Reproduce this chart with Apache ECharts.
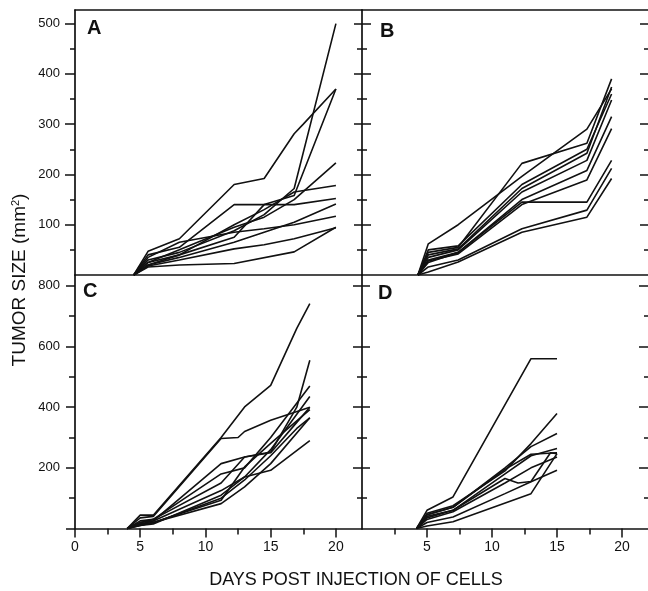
<!DOCTYPE html>
<html>
<head>
<meta charset="utf-8">
<script src="https://cdn.jsdelivr.net/npm/echarts@6/dist/echarts.min.js"></script>
<style>html,body{margin:0;padding:0;background:#fff}#c{width:648px;height:591px}</style>
</head>
<body>
<div id="c"></div>
<script>
// ---------------- DATA ----------------
// Panel A
var daysA = [4.5, 5.6, 8, 12.2, 14.5, 16.8, 17.5, 20];
var panelA = [
  [0, 47, 72, 180, 192, 281, 300, 370],
  [0, 30, 45, 88, 120, 172, null, 500],
  [0, 25, 40, 75, 140, 158, null, 370],
  [0, 40, 55, 140, 140, 140, null, 152],
  [0, 20, 40, 100, 130, 165, null, 178],
  [0, 25, 50, 95, 115, 150, null, 223],
  [0, 20, 35, 65, 85, 105, null, 141],
  [0, 35, 65, 85, 92, 100, null, 117],
  [0, 18, 30, 52, 60, 72, null, 94],
  [0, 16, 20, 23, null, 46, null, 95]
];
// Panel B
var daysB = [4.3, 5.1, 7.4, 12.3, 17.3, 19.2];
var panelB = [
  [0, 62, 100, 196, 290, 370],
  [0, 45, 55, 222, 262, 390],
  [0, 40, 52, 172, 242, 374],
  [0, 35, 50, 165, 228, 348],
  [0, 30, 45, 150, 208, 315],
  [0, 28, 42, 140, 189, 291],
  [0, 25, 45, 145, 145, 228],
  [0, 16, 30, 92, 129, 212],
  [0, 6, 26, 85, 115, 192],
  [0, 50, 58, 180, 250, 360]
];
// Panel C
var daysC = [4, 5, 6, 11.2, 12.5, 13, 15, 17, 18];
var panelC = [
  [0, 44, 44, 300, null, 401, 472, 660, 742],
  [0, 35, 40, 297, 300, 320, 357, null, 400],
  [0, 20, 30, 150, null, 236, 252, 400, 555],
  [0, 25, 30, 180, null, 200, 300, null, 470],
  [0, 15, 25, 125, null, 170, 260, null, 435],
  [0, 10, 20, 93, null, 203, 281, null, 392],
  [0, 15, 20, 82, null, 137, 214, null, 365],
  [0, 10, 15, 110, null, 170, 192, null, 290],
  [0, 20, 25, 214, null, 236, 250, 350, 400],
  [0, 12, 18, 100, null, 160, 240, 330, 365]
];
// Panel D
var daysD = [4.2, 5, 7, 11, 12, 13, 14.5, 15];
var panelD = [
  [0, 60, 104, null, null, 560, null, 560],
  [0, 50, 75, 190, null, 280, null, 379],
  [0, 45, 70, 200, null, 270, null, 313],
  [0, 40, 60, 180, null, 240, null, 264],
  [0, 35, 60, 165, 150, 155, 250, 247],
  [0, 30, 55, 150, null, 200, null, 236],
  [0, 20, 38, 115, null, 154, null, 192],
  [0, 8, 22, null, null, 115, null, 247],
  [0, 45, 70, 195, null, 245, null, 250]
];
// Ticks / labels
var xMajor = [0, 5, 10, 15, 20];
var xMinor = [2.5, 7.5, 12.5, 17.5];
var xLabelsC = [0, 5, 10, 15, 20];
var xLabelsD = [5, 10, 15, 20];
var yMajorAB = [100, 200, 300, 400, 500];
var yMinorAB = [50, 150, 250, 350, 450];
var yMajorCD = [0, 200, 400, 600, 800];
var yMinorCD = [100, 300, 500, 700];
var yLabelsCD = [200, 400, 600, 800];
var panelLetters = ['A', 'B', 'C', 'D'];
var xTitle = 'DAYS POST INJECTION OF CELLS';

// ---------------- CHART ----------------
var FONT = '"Liberation Sans", Arial, Helvetica, sans-serif';
var INK = '#111111';
var X_MAX = 22, Y_MAX_AB = 527, Y_MAX_CD = 836;

var grids = [
  {left: 75, top: 10, width: 287, height: 265},
  {left: 362, top: 10, width: 286, height: 265},
  {left: 75, top: 275, width: 287, height: 253.5},
  {left: 362, top: 275, width: 286, height: 253.5}
];

var xAxes = [], yAxes = [];
function addX(o) {
  var ax = {
    type: 'value', gridIndex: o.grid, min: 0, max: X_MAX, position: o.pos || 'bottom',
    axisLine: {show: !!o.line, onZero: false, lineStyle: {color: INK, width: 1.7}},
    axisTick: o.ticks ? {show: true, customValues: o.ticks, length: o.len, inside: !!o.inside,
      lineStyle: {color: INK, width: 1.5}} : {show: false},
    axisLabel: o.labels ? {show: true, customValues: o.labels, margin: 12, color: INK,
      fontFamily: FONT, fontSize: 14} : {show: false},
    splitLine: {show: false}
  };
  xAxes.push(ax);
  return xAxes.length - 1;
}
function addY(o) {
  var ax = {
    type: 'value', gridIndex: o.grid, min: 0, max: o.max, position: o.pos || 'left',
    axisLine: {show: !!o.line, onZero: false, lineStyle: {color: INK, width: 1.7}},
    axisTick: o.ticks ? {show: true, customValues: o.ticks, length: o.len, inside: !!o.inside,
      lineStyle: {color: INK, width: 1.5}} : {show: false},
    axisLabel: o.labels ? {show: true, customValues: o.labels, margin: 15, color: INK,
      fontFamily: FONT, fontSize: 13} : {show: false},
    splitLine: {show: false}
  };
  yAxes.push(ax);
  return yAxes.length - 1;
}

// X axes
var xA = addX({grid: 0, line: true});
addX({grid: 0, pos: 'top', line: true});
var xB = addX({grid: 1, line: true});
addX({grid: 1, pos: 'top', line: true});
var xC = addX({grid: 2, line: true, ticks: xMajor, len: 9, labels: xLabelsC});
addX({grid: 2, ticks: xMinor, len: 6});
var xD = addX({grid: 3, line: true, ticks: xMajor.slice(1), len: 9, labels: xLabelsD});
addX({grid: 3, ticks: xMinor, len: 6});

// Y axes
var yA = addY({grid: 0, max: Y_MAX_AB, line: true, ticks: yMajorAB, len: 10, labels: yMajorAB});
addY({grid: 0, max: Y_MAX_AB, ticks: yMinorAB, len: 5});
var yB = addY({grid: 1, max: Y_MAX_AB, line: true, ticks: yMajorAB, len: 8});
addY({grid: 1, max: Y_MAX_AB, ticks: yMajorAB, len: 9, inside: true});
addY({grid: 1, max: Y_MAX_AB, ticks: yMinorAB, len: 5});
addY({grid: 1, max: Y_MAX_AB, ticks: yMinorAB, len: 5, inside: true});
addY({grid: 1, max: Y_MAX_AB, pos: 'right', ticks: yMajorAB, len: 8, inside: true});
addY({grid: 1, max: Y_MAX_AB, pos: 'right', ticks: yMinorAB, len: 4, inside: true});

var yC = addY({grid: 2, max: Y_MAX_CD, line: true, ticks: yMajorCD, len: 9, labels: yLabelsCD});
addY({grid: 2, max: Y_MAX_CD, ticks: yMinorCD, len: 6});
var yD = addY({grid: 3, max: Y_MAX_CD, line: true, ticks: yMajorCD.slice(1), len: 9});
addY({grid: 3, max: Y_MAX_CD, ticks: yMajorCD.slice(1), len: 8, inside: true});
addY({grid: 3, max: Y_MAX_CD, ticks: yMinorCD, len: 5});
addY({grid: 3, max: Y_MAX_CD, ticks: yMinorCD, len: 5, inside: true});
addY({grid: 3, max: Y_MAX_CD, pos: 'right', ticks: yMajorCD.slice(1), len: 9, inside: true});
addY({grid: 3, max: Y_MAX_CD, pos: 'right', ticks: yMinorCD, len: 4, inside: true});

var series = [];
function addPanel(days, lines, xi, yi) {
  lines.forEach(function (vals) {
    var data = [];
    for (var i = 0; i < days.length; i++) {
      if (vals[i] !== null && vals[i] !== undefined) data.push([days[i], vals[i]]);
    }
    series.push({
      type: 'line', xAxisIndex: xi, yAxisIndex: yi, data: data,
      showSymbol: false, symbol: 'none', silent: true, clip: false,
      lineStyle: {color: INK, width: 1.6}
    });
  });
}
addPanel(daysA, panelA, xA, yA);
addPanel(daysB, panelB, xB, yB);
addPanel(daysC, panelC, xC, yC);
addPanel(daysD, panelD, xD, yD);

var letterPos = [[87, 18], [380, 21], [83, 281], [378, 283]];
var graphics = panelLetters.map(function (t, i) {
  return {type: 'text', x: letterPos[i][0], y: letterPos[i][1], silent: true,
    style: {text: t, fill: INK, font: 'bold 20px ' + FONT, align: 'left', verticalAlign: 'top'}};
});
graphics.push({
  type: 'text', x: 20, y: 280, rotation: Math.PI / 2, silent: true,
  style: {text: 'TUMOR SIZE (mm{s|2})', fill: INK, font: '19px ' + FONT,
    align: 'center', verticalAlign: 'middle',
    rich: {s: {fontSize: 11, fontFamily: FONT, fill: INK, padding: [0, 0, 9, 0]}}}
});
graphics.push({
  type: 'text', x: 356, y: 580, silent: true,
  style: {text: xTitle, fill: INK, font: '18px ' + FONT, align: 'center', verticalAlign: 'middle'}
});

var chart = echarts.init(document.getElementById('c'), null, {renderer: 'canvas'});
chart.setOption({
  animation: false,
  backgroundColor: '#fff',
  grid: grids,
  xAxis: xAxes,
  yAxis: yAxes,
  series: series,
  graphic: graphics
});
</script>
</body>
</html>
